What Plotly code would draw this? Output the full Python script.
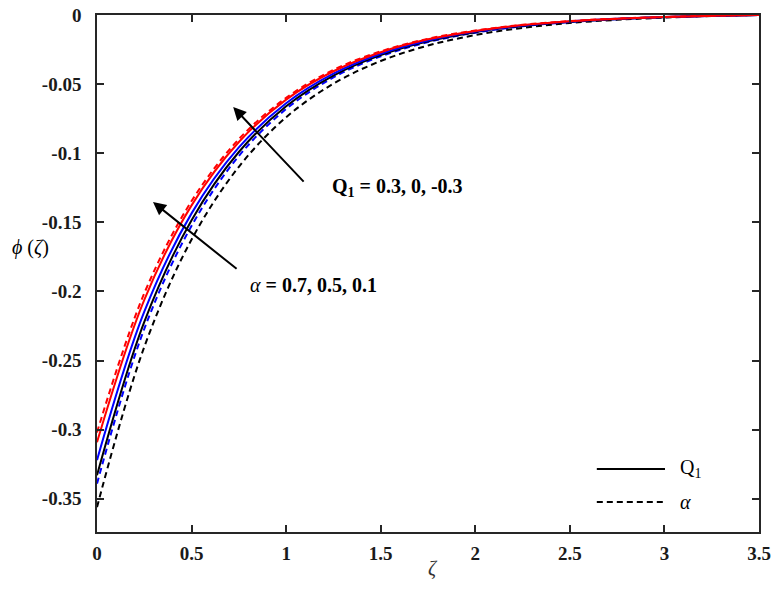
import plotly.graph_objects as go

zeta = [0, 0.25, 0.5, 0.75, 1.0, 1.25, 1.5, 1.75, 2.0, 2.25, 2.5, 2.75, 3.0, 3.25, 3.5]

# Q1 = 0.3, 0, -0.3 (solid)
q1_red = [-0.309, -0.2060, -0.1377, -0.0919, -0.0612, -0.0407, -0.0269, -0.0176, -0.0115, -0.0073, -0.0045, -0.0027, -0.0014, -0.0006, 0]
q1_blue = [-0.322, -0.2146, -0.1435, -0.0958, -0.0638, -0.0424, -0.0280, -0.0184, -0.0119, -0.0076, -0.0047, -0.0028, -0.0014, -0.0006, 0]
q1_black = [-0.333, -0.2220, -0.1484, -0.0991, -0.0660, -0.0438, -0.0290, -0.0190, -0.0124, -0.0079, -0.0049, -0.0029, -0.0015, -0.0006, 0]

# alpha = 0.7, 0.5, 0.1 (dashed)
al_red = [-0.302, -0.2013, -0.1346, -0.0898, -0.0599, -0.0397, -0.0263, -0.0172, -0.0112, -0.0071, -0.0044, -0.0026, -0.0014, -0.0005, 0]
al_blue = [-0.339, -0.2270, -0.1525, -0.1020, -0.0680, -0.0452, -0.0299, -0.0196, -0.0128, -0.0082, -0.0051, -0.0030, -0.0016, -0.0007, 0]
al_black = [-0.356, -0.2401, -0.1624, -0.1098, -0.0740, -0.0497, -0.0333, -0.0221, -0.0145, -0.0093, -0.0058, -0.0035, -0.0019, -0.0007, 0]

x_ticks = [0, 0.5, 1, 1.5, 2, 2.5, 3, 3.5]
x_ticktext = ["0", "0.5", "1", "1.5", "2", "2.5", "3", "3.5"]
y_ticks = [0, -0.05, -0.1, -0.15, -0.2, -0.25, -0.3, -0.35]
y_ticktext = ["0", "-0.05", "-0.1", "-0.15", "-0.2", "-0.25", "-0.3", "-0.35"]

legend_labels = ["Q<sub>1</sub>", "<i>α</i>"]

RED = "#ff0000"
BLUE = "#0000ff"
BLACK = "#000000"
DASH = "6px,4px"
FONT = "Liberation Serif"

fig = go.Figure()

def add(y, color, dash):
    fig.add_trace(go.Scatter(x=zeta, y=y, mode="lines", line_shape="spline",
                             line=dict(color=color, width=2, dash=dash),
                             showlegend=False, hoverinfo="skip"))

add(al_black, BLACK, DASH)
add(al_blue, BLUE, DASH)
add(q1_black, BLACK, "solid")
add(q1_blue, BLUE, "solid")
add(q1_red, RED, "solid")
add(al_red, RED, DASH)

# manual legend (long line samples like the reference)
for yy, dash, lab in [(0.122, "solid", legend_labels[0]), (0.058, DASH, legend_labels[1])]:
    fig.add_shape(type="line", xref="paper", yref="paper", x0=0.755, x1=0.858, y0=yy, y1=yy,
                  line=dict(color=BLACK, width=2, dash=dash))
    fig.add_annotation(x=0.878, y=yy, xref="paper", yref="paper", xanchor="left", yanchor="middle",
                       showarrow=False, text=lab, font=dict(family=FONT, size=20, color=BLACK))

# arrows
fig.add_annotation(x=0.72, y=-0.0666, ax=1.10, ay=-0.1216, xref="x", yref="y",
                   axref="x", ayref="y", showarrow=True, arrowhead=2, arrowsize=1.3,
                   arrowwidth=2, arrowcolor=BLACK, text="")
fig.add_annotation(x=0.296, y=-0.1353, ax=0.746, ay=-0.1845, xref="x", yref="y",
                   axref="x", ayref="y", showarrow=True, arrowhead=2, arrowsize=1.3,
                   arrowwidth=2, arrowcolor=BLACK, text="")

fig.add_annotation(x=1.233, y=-0.125, xref="x", yref="y", xanchor="left", yanchor="middle",
                   showarrow=False, text="<b>Q<sub>1</sub> = 0.3, 0, -0.3</b>",
                   font=dict(family=FONT, size=20, color=BLACK))
fig.add_annotation(x=0.80, y=-0.195, xref="x", yref="y", xanchor="left", yanchor="middle",
                   showarrow=False, text="<i>α</i> <b>= 0.7, 0.5, 0.1</b>",
                   font=dict(family=FONT, size=20, color=BLACK))

# y-axis label (horizontal)
fig.add_annotation(x=-0.101, y=-0.168, xref="paper", yref="y", xanchor="center", yanchor="middle",
                   showarrow=False, text="<i>ϕ</i> (<i>ζ</i>)",
                   font=dict(family=FONT, size=20, color=BLACK))

# x-axis label
fig.add_annotation(x=0.508, y=-0.07, xref="paper", yref="paper", xanchor="center", yanchor="middle",
                   showarrow=False, text="<i>ζ</i>",
                   font=dict(family=FONT, size=20, color="#333333"))

axis_common = dict(showline=True, linecolor="#262626", linewidth=1.5, mirror="ticks",
                   ticks="inside", ticklen=7, tickwidth=1.5, tickcolor="#262626",
                   showgrid=False, zeroline=False, automargin=False,
                   tickfont=dict(family=FONT, size=19, color="#1a1a1a"))

fig.update_xaxes(range=[0, 3.5], tickvals=x_ticks,
                 ticktext=["<b>" + t + "</b>" for t in x_ticktext], ticklabelstandoff=3,
                 **axis_common)
fig.update_yaxes(range=[-0.374, 0], tickvals=y_ticks,
                 ticktext=["<b>" + t + "</b>" for t in y_ticktext], ticklabelstandoff=10,
                 **axis_common)

fig.update_layout(
    width=772, height=589,
    margin=dict(l=97, r=13, t=15, b=57),
    plot_bgcolor="white", paper_bgcolor="white",
    font=dict(family=FONT, size=19, color=BLACK),
    showlegend=False,
)

fig.write_html("out.html", config={"displayModeBar": False},
               post_script="document.body.style.margin='0';document.body.style.overflow='hidden';")
